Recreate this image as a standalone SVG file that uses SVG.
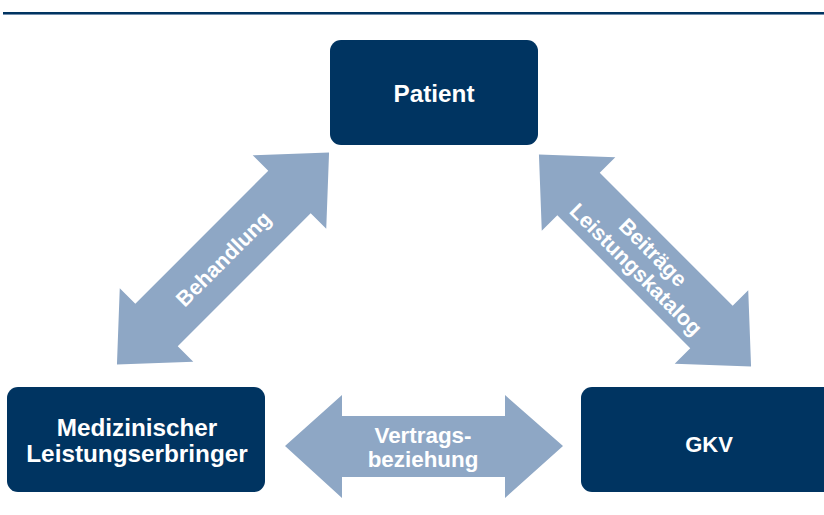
<svg xmlns="http://www.w3.org/2000/svg" width="824" height="515" viewBox="0 0 824 515">
  <style>
    .box { fill: #003461; }
    .arrow { fill: #8ea7c5; }
    .label { font-family: "Liberation Sans", Arial, sans-serif; font-weight: bold; fill: #ffffff; text-anchor: middle; }
    .node { font-size: 24.3px; }
    .edge { font-size: 21.5px; }
  </style>
  <defs>
    <!-- double-headed block arrow, 300 long, centred on the origin -->
    <polygon id="dblArrow" points="-150,0 -94,-52 -94,-30 94,-30 94,-52 150,0 94,52 94,30 -94,30 -94,52"/>
  </defs>

  <!-- header rule -->
  <rect x="3" y="12" width="821" height="2.2" fill="#003461"/>
  <rect x="3" y="14.2" width="821" height="0.8" fill="#5d7c9f"/>

  <g id="connectors">
    <g id="edge-behandlung" transform="translate(223,258.5) rotate(-45)">
      <use href="#dblArrow" class="arrow"/>
      <text class="label edge" x="0" y="8">Behandlung</text>
    </g>
    <g id="edge-beitraege" transform="translate(645,260.5) rotate(45)">
      <use href="#dblArrow" class="arrow"/>
      <text class="label edge" x="0" y="-4">Beiträge</text>
      <text class="label edge" x="0" y="20">Leistungskatalog</text>
    </g>
    <g id="edge-vertrag">
      <polygon class="arrow" points="285,446 342,395 342,416 505,416 505,395 563,446 505,498 505,477 342,477 342,498"/>
      <text class="label edge" x="423" y="443" style="font-size:22.4px">Vertrags-</text>
      <text class="label edge" x="423" y="467" style="font-size:22.4px">beziehung</text>
    </g>
  </g>

  <g id="patient">
    <rect class="box" x="330" y="40" width="208" height="105" rx="11"/>
    <text class="label node" x="434" y="101.5">Patient</text>
  </g>

  <g id="leistungserbringer">
    <rect class="box" x="7" y="387" width="258" height="105" rx="11"/>
    <text class="label node" x="137" y="436">Medizinischer</text>
    <text class="label node" x="137" y="462">Leistungserbringer</text>
  </g>

  <g id="gkv">
    <rect class="box" x="581" y="387" width="258" height="105" rx="11"/>
    <text class="label node" x="709" y="452" style="font-size:22px">GKV</text>
  </g>
</svg>
